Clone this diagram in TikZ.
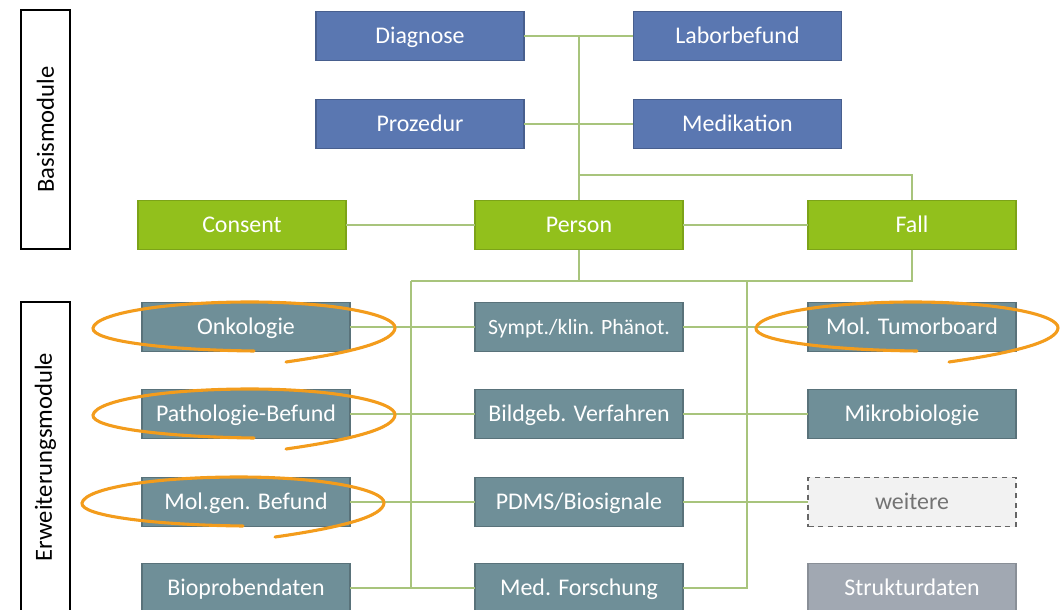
\documentclass[tikz,border=0pt]{standalone}
\usepackage{fontspec}
\setmainfont{Carlito}
\definecolor{basisblue}{RGB}{90,119,177}
\definecolor{kerngreen}{RGB}{146,192,28}
\definecolor{erwteal}{RGB}{111,143,152}
\definecolor{strukgray}{RGB}{161,168,178}
\definecolor{linkgreen}{RGB}{168,196,124}
\definecolor{markorange}{RGB}{243,156,28}
\tikzset{
	box/.style={rectangle,inner sep=0,outer sep=0,minimum width=5.2cm,minimum height=1.225cm,line width=0.8pt,text=white,text height=15.5pt,text depth=4.5pt,font=\fontsize{17}{20}\selectfont},
	basis/.style={box,fill=basisblue,draw=basisblue!80!black},
	kern/.style={box,fill=kerngreen,draw=kerngreen!85!black},
	erw/.style={box,fill=erwteal,draw=erwteal!80!black},
	side/.style={draw,line width=1pt,rotate=90,inner sep=0,minimum height=1.225cm,font=\fontsize{17.5}{20}\selectfont},
	link/.style={draw=linkgreen,line width=1.4pt},
	scribble/.style={draw=markorange,line width=2.2pt,line cap=round},
	pics/oval/.style={code={
		\draw[scribble] (8,24) .. controls (-80,23) and (-155,14) .. (-153,1) .. controls (-150,-14) and (-80,-25) .. (4,-25) .. controls (90,-25) and (150,-12) .. (149,1) .. controls (148,14) and (110,25) .. (40,35);
	}}
}
\begin{document}
\begin{tikzpicture}[x=0.025cm,y=-0.025cm]
	\useasboundingbox (0,0) rectangle (1061,610);
	\node[side,minimum width=5.975cm] (basis) at (45.5,129.5) {Basismodule};
	\node[side,minimum width=7.75cm] (erweit) at (45.5,457) {Erweiterungsmodule};
	\node[basis] (diag) at (420,36) {Diagnose};
	\node[basis] (labor) at (737.5,36) {Laborbefund};
	\node[basis] (proz) at (420,124) {Prozedur};
	\node[basis] (medi) at (737.5,124) {Medikation};
	\node[kern] (consent) at (242,225) {Consent};
	\node[kern] (person) at (579,225) {Person};
	\node[kern] (fall) at (912,225) {Fall};
	\node[erw] (onko) at (246,327) {Onkologie};
	\node[erw,font=\fontsize{15.5}{18}\selectfont] (sympt) at (579,327) {Sympt./klin. Phänot.};
	\node[erw] (tumor) at (912,327) {Mol. Tumorboard};
	\node[erw] (patho) at (246,414) {Pathologie-Befund};
	\node[erw] (bild) at (579,414) {Bildgeb. Verfahren};
	\node[erw] (mikro) at (912,414) {Mikrobiologie};
	\node[erw] (molgen) at (246,502) {Mol.gen. Befund};
	\node[erw] (pdms) at (579,502) {PDMS/Biosignale};
	\node[box,fill=black!5,draw=black!60,dashed,dash pattern=on 4pt off 3pt,text=black!55] (weitere) at (912,502) {weitere};
	\node[erw] (bioprob) at (246,588) {Bioprobendaten};
	\node[erw] (medfor) at (579,588) {Med. Forschung};
	\node[box,fill=strukgray,draw=strukgray!85!black] (struk) at (912,588) {Strukturdaten};
	\coordinate (hub) at (579,175);
	\coordinate (busl) at (411,281);
	\coordinate (busr) at (747,281);
	\draw[link] (diag) -- (labor);
	\draw[link] (proz) -- (medi);
	\draw[link] (person) -- (person |- diag);
	\draw[link] (hub) -| (fall);
	\draw[link] (consent) -- (person);
	\draw[link] (person) -- (fall);
	\draw[link] (person) -- (person |- busl);
	\draw[link] (fall) |- (busl);
	\draw[link] (busl) -- (busl |- bioprob);
	\draw[link] (busr) |- (medfor);
	\draw[link] (onko) -- (sympt);
	\draw[link] (sympt) -- (tumor);
	\draw[link] (patho) -- (bild);
	\draw[link] (bild) -- (mikro);
	\draw[link] (molgen) -- (pdms);
	\draw[link] (pdms) -- (weitere);
	\draw[link] (bioprob) -- (medfor);
	\pic at (onko) {oval};
	\pic at (patho) {oval};
	\pic at ([xshift=-0.275cm]molgen.center) {oval};
	\pic at ([xshift=-0.075cm]tumor.center) {oval};
\end{tikzpicture}
\end{document}
